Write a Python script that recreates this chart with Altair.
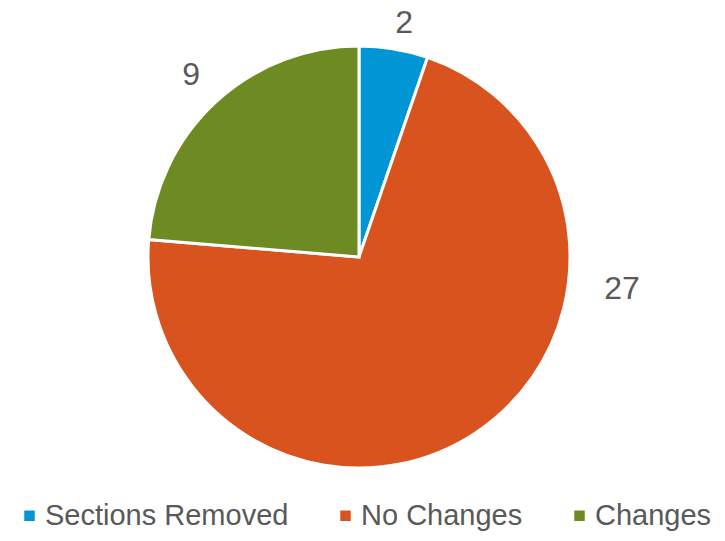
import altair as alt
import pandas as pd

categories = ["Sections Removed", "No Changes", "Changes"]
values = [2, 27, 9]
colors = ["#0096D6", "#D9531E", "#6E8B23"]

# label placement style (radius in px, angular nudge in radians)
label_radius = [238, 265, 248]
label_theta_offset = [0.025, -0.871, 0.0]

df = pd.DataFrame({"category": categories, "value": values, "order": list(range(len(categories)))})

CX, CY = 351, 249
PIE_R = 211
TEXT_COLOR = "#595959"
FONT = "Liberation Sans"

base = alt.Chart(df)

color = alt.Color(
    "category:N",
    scale=alt.Scale(domain=categories, range=colors),
    sort=categories,
    legend=alt.Legend(
        orient="none",
        legendX=7,
        legendY=493,
        direction="horizontal",
        title=None,
        symbolType="square",
        symbolSize=110,
        symbolStrokeWidth=0,
        labelFontSize=29,
        labelFont=FONT,
        labelColor=TEXT_COLOR,
        labelLimit=400,
        columnPadding=42,
        labelOffset=1,
        padding=0,
    ),
)

arcs = base.mark_arc(radius=PIE_R, stroke="white", strokeWidth=3).encode(
    theta=alt.Theta("value:Q", stack=True),
    color=color,
    order=alt.Order("order:Q"),
    x=alt.value(CX),
    y=alt.value(CY),
)

layers = [arcs]
for i, cat in enumerate(categories):
    t = (
        base.transform_window(cum="sum(value)", sort=[alt.SortField("order")], frame=[None, 0])
        .transform_calculate(mid="datum.cum - datum.value / 2")
        .transform_filter(alt.datum.category == cat)
        .mark_text(
            radius=label_radius[i],
            thetaOffset=label_theta_offset[i],
            fontSize=32,
            font=FONT,
            color=TEXT_COLOR,
            align="center",
            baseline="middle",
        )
        .encode(
            theta=alt.Theta("mid:Q"),
            text=alt.Text("value:Q"),
            x=alt.value(CX),
            y=alt.value(CY),
        )
    )
    layers.append(t)

chart = (
    alt.layer(*layers)
    .properties(width=709, height=525, padding=0, autosize=alt.AutoSizeParams(type="none"))
    .configure_view(stroke=None)
)

chart.save("out.html", embed_options={"renderer": "svg", "actions": False})
